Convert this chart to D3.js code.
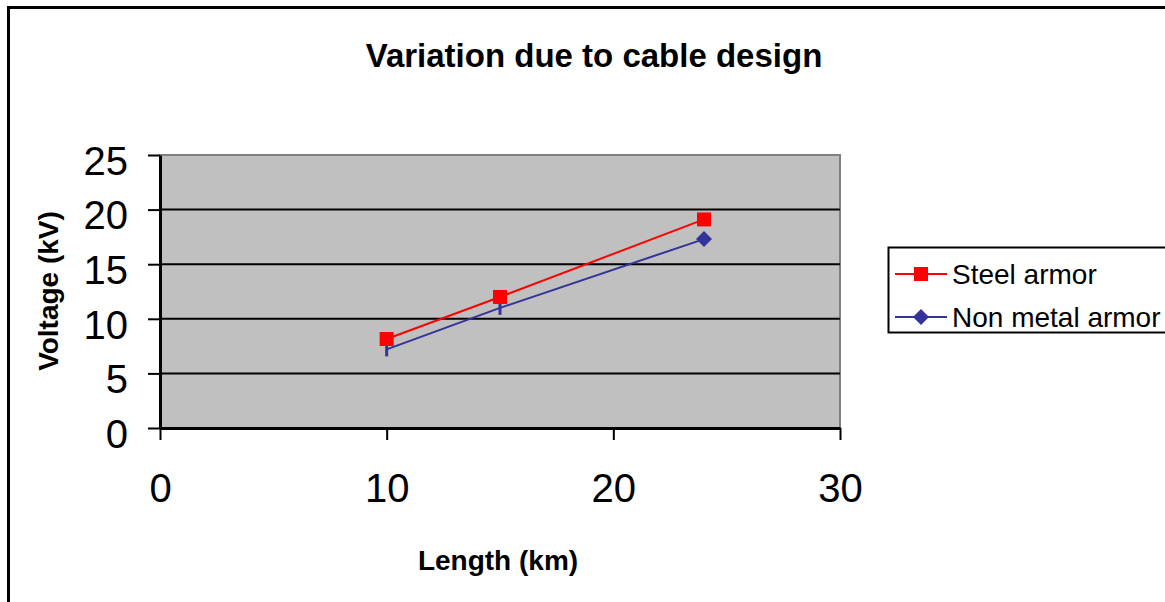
<!DOCTYPE html>
<html>
<head>
<meta charset="utf-8">
<script src="https://cdn.jsdelivr.net/npm/d3@7"></script>
<style>
  body { margin: 0; background: #fff; }
  svg { display: block; font-family: Arial, "Liberation Sans", sans-serif; }
</style>
</head>
<body>
<div id="chart"></div>
<script>
"use strict"

// data
const lengths = [10, 15, 24]
const steelArmor = [8.15, 12.0, 19.1]
const nonMetalArmor = [7.2, 11.0, 17.3]
const xTicks = [0, 10, 20, 30]
const yTicks = [0, 5, 10, 15, 20, 25]
const seriesNames = ["Steel armor", "Non metal armor"]

const W = 1165, H = 602
const plot = {left: 160, top: 155, right: 840, bottom: 428}

const svg = d3.select("#chart").append("svg")
  .attr("width", W)
  .attr("height", H)

// outer chart frame (runs off the right and bottom edge)
svg.append("rect")
  .attr("x", 8.5).attr("y", 7.5)
  .attr("width", W + 20).attr("height", H + 20)
  .attr("fill", "#fff")
  .attr("stroke", "#000")
  .attr("stroke-width", 3)

const x = d3.scaleLinear().domain([0, 30]).range([plot.left, plot.right])
const y = d3.scaleLinear().domain([0, 25]).range([plot.bottom, plot.top])

// plot area
svg.append("rect")
  .attr("x", plot.left).attr("y", plot.top)
  .attr("width", plot.right - plot.left)
  .attr("height", plot.bottom - plot.top)
  .attr("fill", "#c0c0c0")
  .attr("stroke", "#808080")
  .attr("stroke-width", 2)

// gridlines
svg.append("g")
  .selectAll("line")
  .data(yTicks.filter(d => d > 0 && d < 25))
  .enter().append("line")
    .attr("x1", plot.left).attr("x2", plot.right)
    .attr("y1", d => y(d)).attr("y2", d => y(d))
    .attr("stroke", "#000")
    .attr("stroke-width", 2)

// y axis
const yAxis = svg.append("g")
  .attr("transform", "translate(" + plot.left + ",0)")
  .call(d3.axisLeft(y).tickValues(yTicks).tickSize(12).tickPadding(20).tickSizeOuter(0))
yAxis.selectAll("line").attr("stroke", "#000").attr("stroke-width", 2)
yAxis.select(".domain").attr("stroke", "#000").attr("stroke-width", 3)
yAxis.selectAll("text")
  .style("font-size", "40px")
  .style("font-family", "Arial, 'Liberation Sans', sans-serif")
  .attr("fill", "#000")
  .attr("dy", "0.48em")

// x axis
const xAxis = svg.append("g")
  .attr("transform", "translate(0," + plot.bottom + ")")
  .call(d3.axisBottom(x).tickValues(xTicks).tickSize(12).tickPadding(42).tickSizeOuter(0))
xAxis.selectAll("line").attr("stroke", "#000").attr("stroke-width", 2)
xAxis.select(".domain").attr("stroke", "#000").attr("stroke-width", 3)
xAxis.selectAll("text")
  .style("font-size", "40px")
  .style("font-family", "Arial, 'Liberation Sans', sans-serif")
  .attr("fill", "#000")
  .attr("dy", "0.5em")

// lines
const line = d3.line()
  .x((d, i) => x(lengths[i]))
  .y(d => y(d))

svg.append("path")
  .datum(nonMetalArmor)
  .attr("d", line)
  .attr("fill", "none")
  .attr("stroke", "#333399")
  .attr("stroke-width", 2)

svg.append("path")
  .datum(steelArmor)
  .attr("d", line)
  .attr("fill", "none")
  .attr("stroke", "#ff0000")
  .attr("stroke-width", 2)

// non metal markers: the first two render as thin bars, the last as a diamond
svg.append("g")
  .selectAll("path")
  .data(nonMetalArmor)
  .enter().append("path")
    .attr("transform", (d, i) => "translate(" + x(lengths[i]) + "," + y(d) + ")")
    .attr("d", (d, i) => i < nonMetalArmor.length - 1
      ? "M-1.5,-7H1.5V7H-1.5Z"
      : "M0,-8L8,0L0,8L-8,0Z")
    .attr("fill", "#333399")

// steel markers
svg.append("g")
  .selectAll("rect")
  .data(steelArmor)
  .enter().append("rect")
    .attr("x", (d, i) => x(lengths[i]) - 7)
    .attr("y", d => y(d) - 7)
    .attr("width", 14).attr("height", 14)
    .attr("fill", "#ff0000")

// title and axis titles
svg.append("text")
  .attr("x", 594).attr("y", 67)
  .attr("text-anchor", "middle")
  .style("font-size", "33px")
  .style("font-weight", "bold")
  .text("Variation due to cable design")

svg.append("text")
  .attr("transform", "translate(58,291) rotate(-90)")
  .attr("text-anchor", "middle")
  .style("font-size", "28px")
  .style("font-weight", "bold")
  .text("Voltage (kV)")

svg.append("text")
  .attr("x", 498).attr("y", 570)
  .attr("text-anchor", "middle")
  .style("font-size", "28px")
  .style("font-weight", "bold")
  .text("Length (km)")

// legend
const legend = svg.append("g").attr("transform", "translate(888,247)")
legend.append("rect")
  .attr("x", 0.5).attr("y", 0.5)
  .attr("width", 300).attr("height", 85)
  .attr("fill", "#fff")
  .attr("stroke", "#000")
  .attr("stroke-width", 2)

const legendColors = ["#ff0000", "#333399"]
seriesNames.forEach(function(name, i) {
  const ly = 27 + i * 43
  legend.append("line")
    .attr("x1", 7).attr("x2", 59)
    .attr("y1", ly).attr("y2", ly)
    .attr("stroke", legendColors[i])
    .attr("stroke-width", 2)
  legend.append("path")
    .attr("transform", "translate(33," + ly + ")")
    .attr("d", i === 0 ? "M-7,-7H7V7H-7Z" : "M0,-8L8,0L0,8L-8,0Z")
    .attr("fill", legendColors[i])
  legend.append("text")
    .attr("x", 64).attr("y", ly + 10)
    .style("font-size", "28px")
    .text(name)
})
</script>
</body>
</html>
